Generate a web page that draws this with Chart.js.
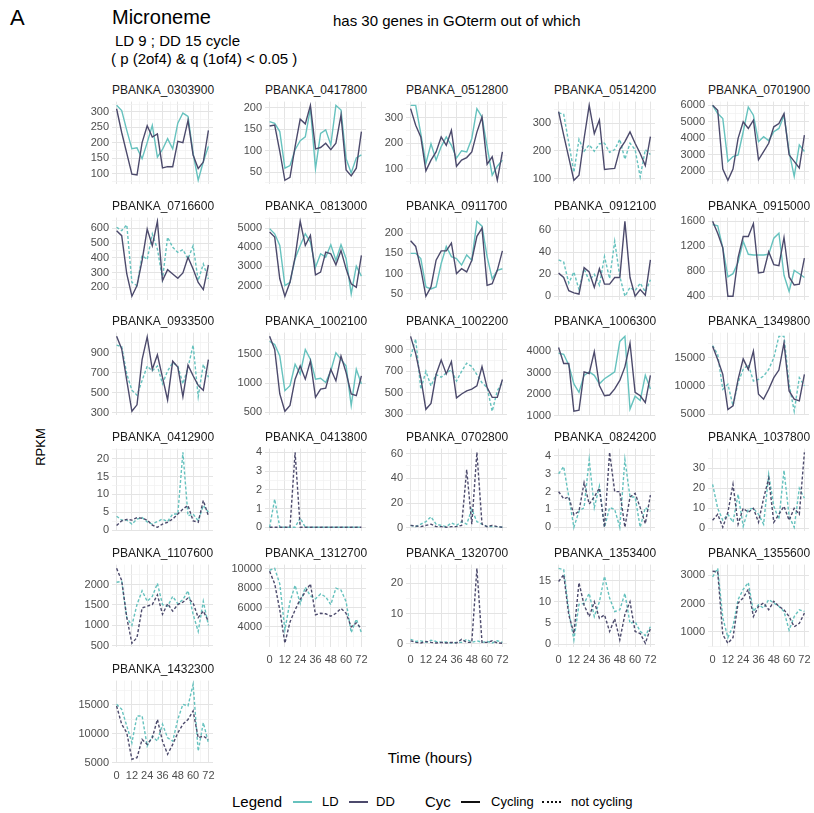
<!DOCTYPE html>
<html>
<head>
<meta charset="utf-8">
<title>Microneme</title>
<script src="https://cdn.jsdelivr.net/npm/chart.js@4.4.1/dist/chart.umd.min.js"></script>
<style>
  body { margin: 0; background: #fff; }
  #fig { position: relative; width: 814px; height: 813px; font-family: "Liberation Sans", Arial, sans-serif; color: #000; overflow: hidden; }
  .txt { position: absolute; white-space: nowrap; }
  .ptitle { position: absolute; width: 101px; text-align: center; font-size: 12px; line-height: 14px; color: #1a1a1a; white-space: nowrap; }
  .panel { position: absolute; }
  .key { position: absolute; height: 0; width: 19px; }
</style>
</head>
<body>
<div id="fig">
  <div class="txt" style="left:10px;top:6px;font-size:22px;line-height:24px;">A</div>
  <div class="txt" style="left:112px;top:6px;font-size:20px;line-height:22px;">Microneme</div>
  <div class="txt" style="left:115px;top:32px;font-size:15px;line-height:18px;">LD 9 ; DD 15 cycle</div>
  <div class="txt" style="left:111px;top:50px;font-size:15px;line-height:18px;">( p (2of4) &amp; q (1of4) &lt; 0.05 )</div>
  <div class="txt" style="left:333px;top:12px;font-size:15px;line-height:18px;">has 30 genes in GOterm out of which</div>
  <div class="txt" style="left:40px;top:447px;font-size:13px;transform:translate(-50%,-50%) rotate(-90deg);">RPKM</div>
  <div class="txt" style="left:430px;top:757px;font-size:15px;transform:translate(-50%,-50%);">Time (hours)</div>

  <div class="txt" style="left:232px;top:793px;font-size:15px;line-height:18px;">Legend</div>
  <div class="key" style="left:293px;top:801px;border-top:2px solid #66c2be;"></div>
  <div class="txt" style="left:322px;top:794px;font-size:13px;line-height:16px;">LD</div>
  <div class="key" style="left:349px;top:801px;border-top:2px solid #4c4a6c;"></div>
  <div class="txt" style="left:376px;top:794px;font-size:13px;line-height:16px;">DD</div>
  <div class="txt" style="left:425px;top:793px;font-size:15px;line-height:18px;">Cyc</div>
  <div class="key" style="left:461px;top:801px;border-top:2px solid #111;"></div>
  <div class="txt" style="left:491px;top:794px;font-size:13px;line-height:16px;">Cycling</div>
  <div class="key" style="left:542px;top:801px;border-top:2px dotted #111;"></div>
  <div class="txt" style="left:571px;top:794px;font-size:13px;line-height:16px;">not cycling</div>
</div>
<script>
// sampling times (hours)
const hours = [0, 4, 8, 12, 16, 20, 24, 28, 32, 36, 40, 44, 48, 52, 56, 60, 64, 68, 72];
const xTicks = [0, 12, 24, 36, 48, 60, 72];

// RPKM per gene, LD and DD, plus y tick labels
const ld0303900 = [321, 304, 240, 180, 183, 148, 200, 256, 153, 178, 213, 180, 263, 296, 285, 165, 78, 138, 188];
const dd0303900 = [310, 233, 165, 98, 95, 200, 255, 218, 228, 118, 122, 122, 204, 200, 272, 160, 116, 137, 240];
const yt0303900 = [100, 150, 200, 250, 300];

const ld0417800 = [167, 163, 144, 59, 65, 102, 123, 132, 198, 58, 140, 148, 113, 205, 194, 81, 48, 83, 90];
const dd0417800 = [157, 159, 98, 31, 38, 109, 173, 162, 205, 104, 107, 117, 102, 117, 182, 55, 41, 59, 144];
const yt0417800 = [50, 100, 150, 200];

const ld0512800 = [348, 348, 237, 120, 197, 133, 186, 224, 191, 141, 170, 165, 218, 335, 302, 186, 74, 109, 133];
const dd0512800 = [335, 270, 224, 91, 133, 165, 224, 191, 250, 109, 133, 143, 165, 243, 302, 117, 146, 54, 165];
const yt0512800 = [100, 200, 300];

const ld0514200 = [338, 333, 229, 123, 242, 199, 222, 199, 226, 228, 195, 205, 242, 170, 228, 205, 106, 205, 187];
const dd0514200 = [342, 257, 176, 94, 112, 245, 365, 263, 312, 133, 135, 137, 206, 234, 269, 228, 191, 147, 252];
const yt0514200 = [100, 200, 300];

const ld0701900 = [6000, 5500, 5200, 2600, 2900, 3000, 4400, 5900, 5400, 3800, 4100, 3860, 4400, 4600, 5400, 3200, 1700, 3600, 3200];
const dd0701900 = [6000, 5700, 2140, 1460, 2140, 4000, 5000, 4600, 5100, 2700, 3200, 3700, 4700, 4900, 5500, 3000, 2600, 2200, 4200];
const yt0701900 = [2000, 3000, 4000, 5000, 6000];

const ld0716600 = [607, 584, 623, 233, 211, 415, 388, 561, 460, 256, 539, 471, 437, 455, 392, 482, 245, 358, 256];
const dd0716600 = [584, 550, 290, 139, 211, 381, 595, 482, 647, 245, 319, 290, 261, 297, 403, 324, 233, 184, 351];
const yt0716600 = [200, 300, 400, 500, 600];

const ld0813000 = [4970, 4700, 4090, 2000, 2170, 3400, 4090, 4700, 4270, 2960, 3660, 3480, 4130, 3310, 4130, 3400, 1560, 3010, 2490];
const dd0813000 = [4790, 4530, 2350, 1440, 2170, 3480, 5350, 4090, 4620, 2560, 2700, 3740, 3660, 3080, 3830, 2870, 2090, 1910, 3570];
const yt0813000 = [2000, 3000, 4000, 5000];

const ld0911700 = [150, 150, 137, 67, 62, 67, 125, 167, 142, 137, 121, 146, 133, 229, 217, 142, 87, 108, 112];
const dd0911700 = [181, 167, 112, 44, 67, 133, 156, 156, 175, 100, 112, 104, 133, 192, 212, 71, 75, 108, 156];
const yt0911700 = [50, 100, 150, 200];

const ld0912100 = [33, 31, 12, 22, 6, 25, 14, 20, 10, 36, 16, 50, 18, 0, 8, 5, 12, 4, 15];
const dd0912100 = [21, 17, 5, 3, 2, 26, 22, 8, 25, 11, 11, 17, 17, 68, 17, 0, 6, 1, 33];
const yt0912100 = [0, 20, 40, 60];

const ld0915000 = [1550, 1530, 1175, 710, 762, 943, 1280, 1072, 1062, 1062, 1062, 1072, 1330, 1410, 736, 477, 813, 760, 700];
const dd0915000 = [1600, 1408, 1175, 400, 400, 1020, 1357, 1357, 1564, 772, 787, 1113, 907, 891, 1342, 710, 580, 595, 1010];
const yt0915000 = [400, 800, 1200, 1600];

const ld0933500 = [974, 958, 684, 523, 474, 619, 764, 716, 764, 587, 716, 797, 764, 587, 748, 974, 458, 781, 652];
const dd0933500 = [1061, 935, 619, 313, 377, 829, 1055, 732, 877, 652, 426, 813, 755, 458, 774, 668, 571, 523, 829];
const yt0933500 = [300, 500, 700, 900];

const ld1002100 = [1727, 1670, 1472, 875, 960, 1330, 1160, 1585, 1415, 1074, 1090, 1017, 1216, 1528, 1415, 1301, 619, 1244, 989];
const dd1002100 = [1812, 1585, 818, 520, 620, 1074, 1301, 1074, 1386, 761, 903, 920, 1244, 1045, 1472, 1187, 818, 790, 1131];
const yt1002100 = [500, 1000, 1500];

const ld1002200 = [836, 1003, 533, 700, 564, 670, 645, 685, 715, 609, 700, 776, 745, 670, 594, 548, 327, 518, 600];
const dd1002200 = [1027, 866, 639, 345, 400, 670, 806, 676, 791, 452, 488, 518, 533, 564, 745, 548, 457, 457, 624];
const yt1002200 = [300, 500, 700, 900];

const ld1006300 = [3890, 3843, 3339, 2472, 2079, 2866, 3031, 2866, 2472, 2709, 2866, 3031, 4441, 4677, 1300, 1900, 1700, 2866, 2236];
const dd1006300 = [4157, 3417, 3417, 1200, 1250, 3031, 2953, 3968, 2394, 1921, 1953, 2236, 2630, 3260, 4362, 2079, 1921, 1606, 2866];
const yt1006300 = [1000, 2000, 3000, 4000];

const ld1349800 = [17180, 15590, 9410, 10290, 6470, 10590, 12940, 13820, 10880, 11180, 11760, 12940, 15000, 18820, 18820, 10290, 5500, 11470, 10000];
const dd1349800 = [17060, 14700, 12060, 5800, 6470, 11180, 14820, 12940, 16180, 8530, 7650, 9410, 11470, 12820, 17650, 9120, 7650, 7350, 12060];
const yt1349800 = [5000, 10000, 15000];

const ld0412900 = [3.9, 2.8, 2.8, 1.7, 3.1, 3.5, 2.3, 1.7, 2.4, 3.1, 2.4, 4.5, 4.5, 21.8, 4, 4.5, 2.6, 6.9, 5];
const dd0412900 = [1.3, 2.6, 3, 2.8, 3.5, 3.3, 2.8, 1.4, 0.8, 1.7, 2.2, 3.1, 4.5, 5.9, 6.9, 2.6, 2.2, 8.3, 4];
const yt0412900 = [0, 5, 10, 15, 20];

const ld0413800 = [0, 1.5, 0, 0, 0, 0, 0.5, 0, 0, 0, 0, 0, 0, 0, 0, 0, 0, 0, 0];
const dd0413800 = [0, 0, 0, 0, 0, 4, 0, 0, 0, 0, 0, 0, 0, 0, 0, 0, 0, 0, 0];
const yt0413800 = [0, 1, 2, 3, 4];

const ld0702800 = [2, 1, 3, 5, 9, 3, 2, 1, 4, 2, 5, 3, 15, 5, 3, 1, 1, 1, 0.5];
const dd0702800 = [2, 1.5, 1, 2, 3, 1, 1, 0.5, 1, 1, 2, 47, 3, 61, 3, 1, 2, 1, 0.5];
const yt0702800 = [0, 20, 40, 60];

const ld0824200 = [3, 3.4, 1.7, 0, 0.9, 1.1, 3.8, 1.1, 2.3, 0, 1.1, 1, 0, 3.8, 1.7, 1.7, 0, 1.1, 0.9];
const dd0824200 = [2, 1.6, 1.7, 0.7, 0.9, 2.5, 1.3, 1.7, 2.2, 0, 4.2, 2, 2, 0, 1.7, 1.9, 1.1, 0.2, 1.8];
const yt0824200 = [0, 1, 2, 3, 4];

const ld1037800 = [22, 10, 4, 7, 3, 17, 1, 9.5, 10, 7, 2, 27, 11, 4.5, 29, 6, 0.5, 20, 15];
const dd1037800 = [4, 7, 0.5, 8, 22, 2, 10, 8, 10, 3, 15, 25, 3, 7, 11, 4, 10, 7, 38];
const yt1037800 = [0, 10, 20, 30];

const ld1107600 = [2060, 2080, 1190, 1000, 1510, 1850, 1590, 1710, 2030, 1510, 1470, 1710, 1530, 1630, 1850, 1270, 850, 1590, 1000];
const dd1107600 = [2400, 2100, 1190, 560, 700, 1430, 1470, 1510, 1750, 1270, 1530, 1350, 1510, 1570, 1670, 1550, 1190, 1350, 1100];
const yt1107600 = [500, 1000, 1500, 2000];

const ld1312700 = [9850, 10050, 8450, 3700, 6600, 8300, 6400, 8100, 7200, 6900, 7400, 7100, 6300, 8000, 7800, 6600, 3400, 4800, 3400];
const dd1312700 = [9750, 8450, 5750, 2300, 4500, 5750, 6850, 7600, 8450, 5250, 5400, 5350, 5100, 5400, 5900, 5400, 4000, 4400, 3800];
const yt1312700 = [4000, 6000, 8000, 10000];

const ld1320700 = [1.5, 0.8, 1, 0.5, 1.2, 0.8, 0.5, 0.6, 0.3, 0.5, 0.5, 1.5, 0.5, 1, 0.5, 0.8, 0.3, 1, 0.5];
const dd1320700 = [1, 0.5, 0.3, 0.8, 0.5, 0.3, 0.5, 0.3, 0.5, 0.3, 1.5, 0.5, 0.5, 25, 0.5, 0.5, 1, 0.3, 0.2];
const yt1320700 = [0, 10, 20];

const ld1353400 = [17.9, 17.6, 7.7, 1, 9.4, 9.6, 12, 6.5, 10, 16, 10.9, 7.7, 8.1, 12, 4.9, 5.3, 3, 2, 4.1];
const dd1353400 = [14.8, 16.4, 6.9, 2.5, 14.5, 9.2, 6.5, 10, 6.1, 6.9, 3, 6, 1, 7, 10, 3, 2.5, 0.2, 3.7];
const yt1353400 = [0, 5, 10, 15];

const ld1355600 = [2940, 3240, 1500, 800, 1200, 2140, 2500, 2740, 1720, 1960, 1840, 2140, 2020, 1900, 1720, 1060, 1540, 1780, 1720];
const dd1355600 = [3140, 3120, 900, 600, 800, 2020, 2200, 2500, 1540, 1900, 2020, 1780, 2080, 1900, 1780, 1540, 1180, 1300, 1660];
const yt1355600 = [1000, 2000, 3000];

const ld1432300 = [15120, 14250, 11360, 8440, 13090, 13090, 7860, 9600, 8730, 11650, 9310, 8730, 12490, 15120, 14830, 18580, 7000, 11940, 8440];
const dd1432300 = [14830, 11650, 10170, 5580, 5870, 9020, 8150, 9310, 12490, 8730, 6450, 8150, 10170, 11650, 12490, 13960, 9310, 9600, 9020];
const yt1432300 = [5000, 10000, 15000];

const genes = ['0303900', '0417800', '0512800', '0514200', '0701900',
               '0716600', '0813000', '0911700', '0912100', '0915000',
               '0933500', '1002100', '1002200', '1006300', '1349800',
               '0412900', '0413800', '0702800', '0824200', '1037800',
               '1107600', '1312700', '1320700', '1353400', '1355600',
               '1432300'];

const panelData = {
  '0303900': [ld0303900, dd0303900, yt0303900], '0417800': [ld0417800, dd0417800, yt0417800],
  '0512800': [ld0512800, dd0512800, yt0512800], '0514200': [ld0514200, dd0514200, yt0514200],
  '0701900': [ld0701900, dd0701900, yt0701900], '0716600': [ld0716600, dd0716600, yt0716600],
  '0813000': [ld0813000, dd0813000, yt0813000], '0911700': [ld0911700, dd0911700, yt0911700],
  '0912100': [ld0912100, dd0912100, yt0912100], '0915000': [ld0915000, dd0915000, yt0915000],
  '0933500': [ld0933500, dd0933500, yt0933500], '1002100': [ld1002100, dd1002100, yt1002100],
  '1002200': [ld1002200, dd1002200, yt1002200], '1006300': [ld1006300, dd1006300, yt1006300],
  '1349800': [ld1349800, dd1349800, yt1349800], '0412900': [ld0412900, dd0412900, yt0412900],
  '0413800': [ld0413800, dd0413800, yt0413800], '0702800': [ld0702800, dd0702800, yt0702800],
  '0824200': [ld0824200, dd0824200, yt0824200], '1037800': [ld1037800, dd1037800, yt1037800],
  '1107600': [ld1107600, dd1107600, yt1107600], '1312700': [ld1312700, dd1312700, yt1312700],
  '1320700': [ld1320700, dd1320700, yt1320700], '1353400': [ld1353400, dd1353400, yt1353400],
  '1355600': [ld1355600, dd1355600, yt1355600], '1432300': [ld1432300, dd1432300, yt1432300]
};

// genes whose LD / DD profile is called cycling (solid line)
const ldCycling = ['0303900', '0417800', '0512800', '0701900', '0813000', '0911700', '0915000', '1002100', '1006300'];
const ddCycling = genes.slice(0, 15);

const LD_COL = '#66c2be';
const DD_COL = '#4c4a6c';
const FONT = '"Liberation Sans", Arial, sans-serif';

// panel grid
const colLeft = [112, 265, 406, 554, 708];
const rowTop = [100, 216, 331, 447, 563, 679];
const PW = 101, PH = 84;
const PADL = 44, PADT = 8, PADR = 8, PADB = 22;

const fig = document.getElementById('fig');

function gridOpts(isMajor) {
  return {
    drawTicks: false,
    color: c => isMajor(c.tick.value) ? '#e4e4e4' : '#f0f0f0',
    lineWidth: c => isMajor(c.tick.value) ? 1 : 0.7
  };
}

genes.forEach((g, i) => {
  const row = Math.floor(i / 5), col = i % 5;
  const L = colLeft[col], T = rowTop[row];
  const showX = row === 5 || (row === 4 && col > 0);
  const [ld, dd, yt] = panelData[g];

  const all = ld.concat(dd);
  const mn = Math.min(...all), mx = Math.max(...all);
  const lo = mn - 0.05 * (mx - mn), hi = mx + 0.05 * (mx - mn);
  const step = yt[1] - yt[0];
  const yAll = yt.slice();
  if (yt[0] - step / 2 >= lo) yAll.push(yt[0] - step / 2);
  for (let k = 0; k < yt.length - 1; k++) yAll.push(yt[k] + step / 2);
  if (yt[yt.length - 1] + step / 2 <= hi) yAll.push(yt[yt.length - 1] + step / 2);
  yAll.sort((a, b) => a - b);
  const xAll = [];
  for (let h = 0; h <= 72; h += 6) xAll.push(h);

  const title = document.createElement('div');
  title.className = 'ptitle';
  title.style.left = L + 'px';
  title.style.top = (T - 17) + 'px';
  title.textContent = 'PBANKA_' + g;
  fig.appendChild(title);

  const wrap = document.createElement('div');
  wrap.className = 'panel';
  wrap.style.left = (L - PADL) + 'px';
  wrap.style.top = (T - PADT) + 'px';
  const cv = document.createElement('canvas');
  cv.width = PADL + PW + PADR;
  cv.height = PADT + PH + PADB;
  cv.style.width = cv.width + 'px';
  cv.style.height = cv.height + 'px';
  wrap.appendChild(cv);
  fig.appendChild(wrap);

  new Chart(cv, {
    type: 'line',
    data: {
      datasets: [
        {
          label: 'DD',
          data: hours.map((h, k) => ({ x: h, y: dd[k] })),
          borderColor: DD_COL,
          borderWidth: 1.4,
          borderDash: ddCycling.includes(g) ? [] : [3, 2],
          pointRadius: 0,
          tension: 0,
          fill: false
        },
        {
          label: 'LD',
          data: hours.map((h, k) => ({ x: h, y: ld[k] })),
          borderColor: LD_COL,
          borderWidth: 1.4,
          borderDash: ldCycling.includes(g) ? [] : [3, 2],
          pointRadius: 0,
          tension: 0,
          fill: false
        }
      ]
    },
    options: {
      responsive: false,
      animation: false,
      devicePixelRatio: 1,
      layout: { padding: { top: PADT, right: PADR, left: 0, bottom: 0 } },
      plugins: { legend: { display: false }, tooltip: { enabled: false } },
      scales: {
        x: {
          type: 'linear',
          min: -3.6,
          max: 75.6,
          border: { display: false },
          afterBuildTicks: s => { s.ticks = xAll.map(v => ({ value: v })); },
          afterFit: s => { s.height = PADB; },
          grid: gridOpts(v => xTicks.includes(v)),
          ticks: {
            display: showX,
            autoSkip: false,
            maxRotation: 0,
            padding: 6,
            color: '#4d4d4d',
            font: { size: 11, family: FONT },
            callback: v => xTicks.includes(v) ? String(v) : ''
          }
        },
        y: {
          type: 'linear',
          min: lo,
          max: hi,
          border: { display: false },
          afterBuildTicks: s => { s.ticks = yAll.map(v => ({ value: v })); },
          afterFit: s => { s.width = PADL; },
          grid: gridOpts(v => yt.includes(v)),
          ticks: {
            autoSkip: false,
            padding: 3,
            color: '#4d4d4d',
            font: { size: 11, family: FONT },
            callback: v => yt.includes(v) ? String(v) : ''
          }
        }
      }
    }
  });
});
</script>
</body>
</html>
